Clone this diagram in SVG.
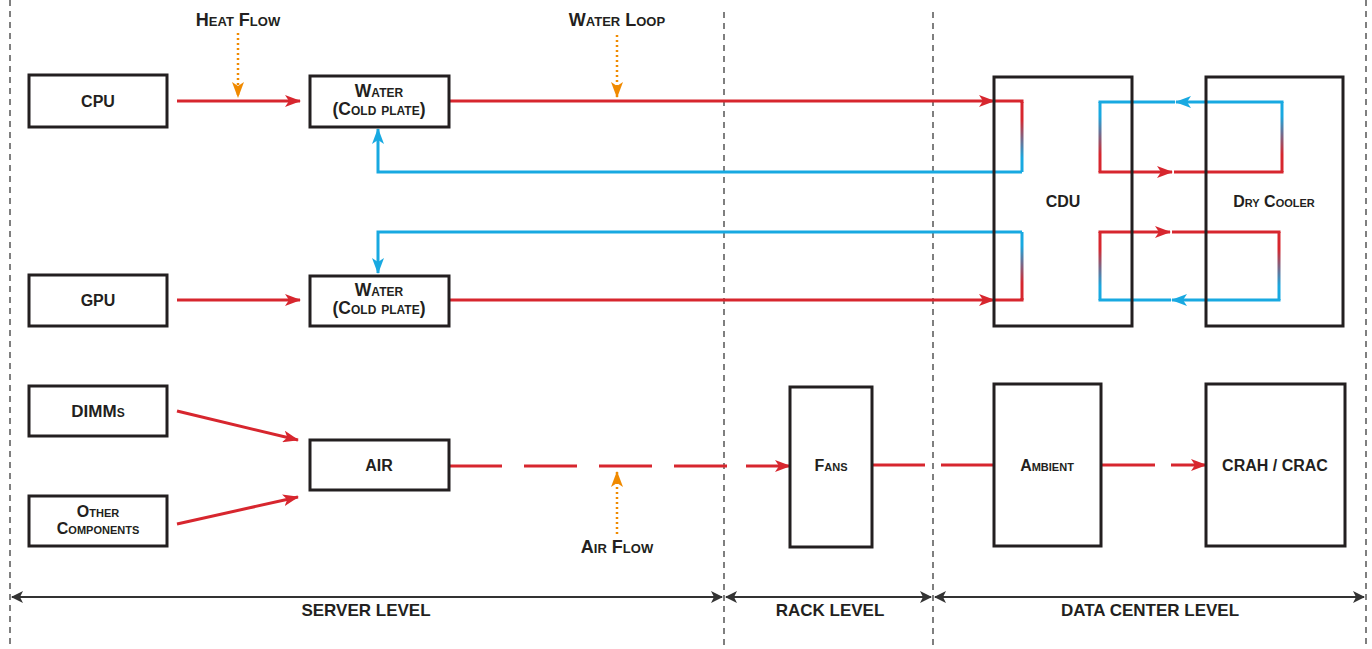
<svg xmlns="http://www.w3.org/2000/svg" width="1372" height="649" viewBox="0 0 1372 649">
<style>
.box{fill:#fff;stroke:#231f20;stroke-width:3}
.t{font-family:"Liberation Sans",Arial,sans-serif;font-weight:bold;font-size:16px;fill:#231f20;text-anchor:middle;font-variant:small-caps}
.big{font-size:18px}
.wt{font-size:17.5px}
.lv{font-size:17px}
.sep{stroke:#555;stroke-width:1.5;stroke-dasharray:6 5;fill:none}
.red{stroke:#d7262e;stroke-width:3;fill:none}
.blue{stroke:#18a9e1;stroke-width:3;fill:none}
.or{stroke:#f08a00;stroke-width:2.5;stroke-dasharray:2 3;fill:none}
.lvl{stroke:#333;stroke-width:2;fill:none}
</style>
<defs>
<marker id="ar" viewBox="0 0 16 12" refX="15" refY="6" markerWidth="16" markerHeight="12" markerUnits="userSpaceOnUse" orient="auto"><path d="M0,0 L16,6 L0,12 L4,6 z" fill="#d7262e"/></marker>
<marker id="ab" viewBox="0 0 16 12" refX="15" refY="6" markerWidth="16" markerHeight="12" markerUnits="userSpaceOnUse" orient="auto"><path d="M0,0 L16,6 L0,12 L4,6 z" fill="#18a9e1"/></marker>
<marker id="ao2" viewBox="0 0 16 12" refX="15" refY="6" markerWidth="16" markerHeight="12" markerUnits="userSpaceOnUse" orient="auto"><path d="M0,0 L16,6 L0,12 L4,6 z" fill="#f08a00"/></marker>
<marker id="ak" viewBox="0 0 12 12" refX="11" refY="6" markerWidth="12" markerHeight="12" markerUnits="userSpaceOnUse" orient="auto-start-reverse"><path d="M0,0 L12,6 L0,12 L3,6 z" fill="#333"/></marker>
<linearGradient id="gRB1" gradientUnits="userSpaceOnUse" x1="0" y1="102" x2="0" y2="172"><stop offset="0.25" stop-color="#d7262e"/><stop offset="0.8" stop-color="#18a9e1"/></linearGradient>
<linearGradient id="gBR1" gradientUnits="userSpaceOnUse" x1="0" y1="102" x2="0" y2="172"><stop offset="0.2" stop-color="#18a9e1"/><stop offset="0.75" stop-color="#d7262e"/></linearGradient>
<linearGradient id="gRB2" gradientUnits="userSpaceOnUse" x1="0" y1="232" x2="0" y2="300"><stop offset="0.25" stop-color="#d7262e"/><stop offset="0.8" stop-color="#18a9e1"/></linearGradient>
<linearGradient id="gBR2" gradientUnits="userSpaceOnUse" x1="0" y1="232" x2="0" y2="300"><stop offset="0.2" stop-color="#18a9e1"/><stop offset="0.75" stop-color="#d7262e"/></linearGradient>
</defs>
<rect width="1372" height="649" fill="#fff"/>
<g id="separators">
<line class="sep" x1="10" y1="0" x2="10" y2="649"/>
<line class="sep" x1="724" y1="12" x2="724" y2="649"/>
<line class="sep" x1="933" y1="12" x2="933" y2="649"/>
<line class="sep" x1="1366" y1="0" x2="1366" y2="649"/>
</g>
<g id="connectors">
<line class="red" x1="177" y1="101" x2="300" y2="101" marker-end="url(#ar)"/>
<line class="red" x1="449" y1="101" x2="994" y2="101" marker-end="url(#ar)"/>
<polyline class="red" points="994,101 1022,101 1022,103"/>
<line x1="1022" y1="102" x2="1022" y2="172" stroke="url(#gRB1)" stroke-width="3"/>
<polyline class="blue" points="1022,172 378,172 378,129" marker-end="url(#ab)"/>
<line class="red" x1="177" y1="300" x2="300" y2="300" marker-end="url(#ar)"/>
<line class="red" x1="449" y1="300" x2="994" y2="300" marker-end="url(#ar)"/>
<polyline class="red" points="994,300 1022,300 1022,298"/>
<line x1="1022" y1="232" x2="1022" y2="300" stroke="url(#gBR2)" stroke-width="3"/>
<polyline class="blue" points="1022,232 378,232 378,273" marker-end="url(#ab)"/>
<polyline class="blue" points="1282,103 1282,102 1176,102" marker-end="url(#ab)"/>
<polyline class="blue" points="1175,102 1100,102 1100,103"/>
<line x1="1100" y1="102" x2="1100" y2="172" stroke="url(#gBR1)" stroke-width="3"/>
<line x1="1282" y1="102" x2="1282" y2="172" stroke="url(#gBR1)" stroke-width="3"/>
<polyline class="red" points="1100,171 1100,172 1172,172" marker-end="url(#ar)"/>
<polyline class="red" points="1174,172 1282,172 1282,171"/>
<polyline class="red" points="1100,233 1100,232 1170,232" marker-end="url(#ar)"/>
<polyline class="red" points="1172,232 1279,232 1279,233"/>
<line x1="1279" y1="232" x2="1279" y2="300" stroke="url(#gRB2)" stroke-width="3"/>
<line x1="1100" y1="232" x2="1100" y2="300" stroke="url(#gRB2)" stroke-width="3"/>
<polyline class="blue" points="1279,299 1279,300 1172,300" marker-end="url(#ab)"/>
<polyline class="blue" points="1171,300 1100,300 1100,299"/>
<line class="red" x1="177" y1="411" x2="298" y2="440" marker-end="url(#ar)"/>
<line class="red" x1="177" y1="524" x2="298" y2="497" marker-end="url(#ar)"/>
<line class="red" x1="449" y1="466" x2="728" y2="466" stroke-dasharray="53 22"/>
<line class="red" x1="746" y1="466" x2="790" y2="466" marker-end="url(#ar)"/>
<line class="red" x1="872" y1="465" x2="925" y2="465"/>
<line class="red" x1="941" y1="465" x2="994" y2="465"/>
<line class="red" x1="1101" y1="465" x2="1155" y2="465"/>
<line class="red" x1="1171" y1="465" x2="1206" y2="465" marker-end="url(#ar)"/>
<line class="or" x1="238" y1="33" x2="238" y2="97" marker-end="url(#ao2)"/>
<line class="or" x1="617" y1="35" x2="617" y2="97" marker-end="url(#ao2)"/>
<line class="or" x1="617" y1="534" x2="617" y2="472" marker-end="url(#ao2)"/>
<line class="lvl" x1="12" y1="597" x2="722" y2="597" marker-start="url(#ak)" marker-end="url(#ak)"/>
<line class="lvl" x1="726" y1="597" x2="931" y2="597" marker-start="url(#ak)" marker-end="url(#ak)"/>
<line class="lvl" x1="935" y1="597" x2="1364" y2="597" marker-start="url(#ak)" marker-end="url(#ak)"/>
</g>
<g id="cpu"><rect class="box" x="29" y="75" width="138" height="52"/><text class="t" x="98" y="107">CPU</text></g>
<g id="water1"><rect class="box" x="310" y="76" width="139" height="51"/><text class="t wt" x="379" y="97">Water</text><text class="t wt" x="379" y="115">(Cold plate)</text></g>
<g id="gpu"><rect class="box" x="29" y="275" width="138" height="51"/><text class="t" x="98" y="306">GPU</text></g>
<g id="water2"><rect class="box" x="310" y="276" width="139" height="50"/><text class="t wt" x="379" y="296">Water</text><text class="t wt" x="379" y="314">(Cold plate)</text></g>
<g id="cdu"><rect class="box" x="994" y="77" width="138" height="249" style="fill:none"/><text class="t" x="1063" y="207">CDU</text></g>
<g id="drycooler"><rect class="box" x="1206" y="77" width="137" height="249" style="fill:none"/><text class="t" x="1274" y="207">Dry Cooler</text></g>
<g id="dimms"><rect class="box" x="29" y="386" width="138" height="50"/><text class="t" x="98" y="417" style="font-size:17px">DIMMs</text></g>
<g id="other"><rect class="box" x="29" y="496" width="138" height="50"/><text class="t" x="98" y="517">Other</text><text class="t" x="98" y="534">Components</text></g>
<g id="air"><rect class="box" x="310" y="440" width="139" height="50"/><text class="t" x="379" y="471">AIR</text></g>
<g id="fans"><rect class="box" x="790" y="387" width="82" height="160"/><text class="t" x="831" y="471">Fans</text></g>
<g id="ambient"><rect class="box" x="994" y="384" width="107" height="162"/><text class="t" x="1047" y="471">Ambient</text></g>
<g id="crah"><rect class="box" x="1206" y="384" width="139" height="162"/><text class="t" x="1275" y="471">CRAH / CRAC</text></g>
<g id="labels">
<text class="t big" x="238" y="26">Heat Flow</text>
<text class="t big" x="617" y="26">Water Loop</text>
<text class="t big" x="617" y="553">Air Flow</text>
<text class="t lv" x="366" y="616">SERVER LEVEL</text>
<text class="t lv" x="830" y="616">RACK LEVEL</text>
<text class="t lv" x="1150" y="616">DATA CENTER LEVEL</text>
</g>
</svg>
